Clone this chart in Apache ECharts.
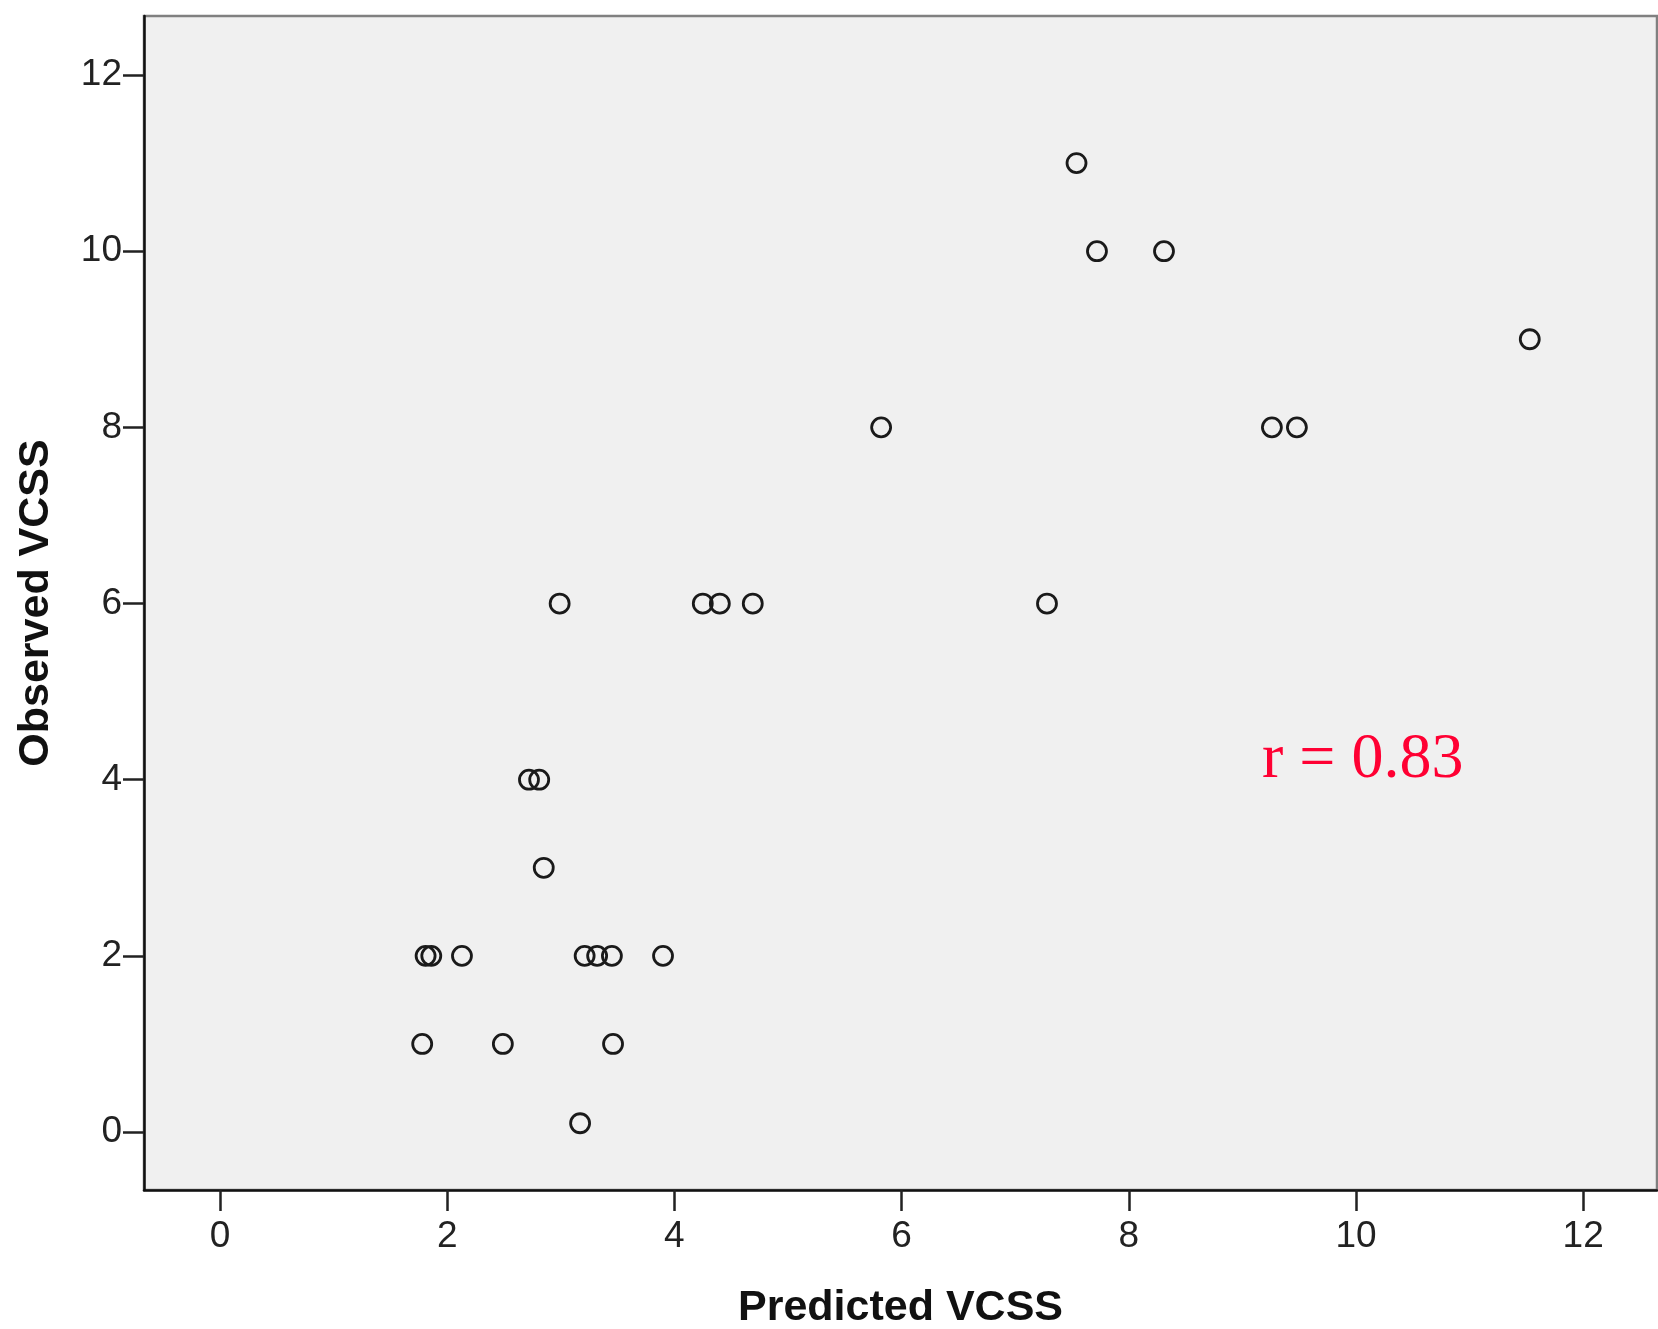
<!DOCTYPE html>
<html>
<head>
<meta charset="utf-8">
<script src="https://cdn.jsdelivr.net/npm/echarts@6/dist/echarts.min.js"></script>
<style>
html,body{margin:0;padding:0;background:#fff;}
#chart{width:1658px;height:1329px;}
</style>
</head>
<body>
<div id="chart"></div>
<script>
// Predicted VCSS (x) and Observed VCSS (y)
var predicted = [7.54, 7.72, 8.31, 11.53, 5.82, 9.26, 9.48, 2.99, 4.25, 4.40, 4.69, 7.28, 2.72, 2.81, 2.85, 1.81, 1.86, 2.13, 3.21, 3.32, 3.45, 3.90, 1.78, 2.49, 3.46, 3.17];
var observed  = [11, 10, 10, 9, 8, 8, 8, 6, 6, 6, 6, 6, 4, 4, 3, 2, 2, 2, 2, 2, 2, 2, 1, 1, 1, 0.1];
var tickValues = [0, 2, 4, 6, 8, 10, 12];
var xTitle = 'Predicted VCSS';
var yTitle = 'Observed VCSS';
var annotation = 'r = 0.83';

var points = predicted.map(function (x, i) { return [x, observed[i]]; });

var chart = echarts.init(document.getElementById('chart'), null, {renderer: 'canvas'});
var labelFont = '"Liberation Sans Narrow", "Liberation Sans", Arial, sans-serif';
function axisCommon(name, gap, labelMargin, min, max) {
  return {
    type: 'value',
    min: min, max: max,
    name: name,
    nameLocation: 'middle',
    nameGap: gap,
    nameTextStyle: {fontFamily: '"Liberation Sans", Arial, sans-serif', fontWeight: 'bold', fontSize: 43, color: '#111'},
    axisLine: {show: true, onZero: false, lineStyle: {color: '#111', width: 2.5}},
    axisTick: {show: true, inside: false, length: 21, customValues: tickValues, lineStyle: {color: '#222', width: 2.5}},
    axisLabel: {show: true, margin: labelMargin, customValues: tickValues, fontFamily: labelFont, fontSize: 37, color: '#222'},
    splitLine: {show: false}
  };
}

chart.setOption({
  animation: false,
  backgroundColor: '#ffffff',
  grid: {
    left: 144, top: 16, right: 1, bottom: 139,
    containLabel: false, outerBoundsMode: 'none',
    show: true, backgroundColor: '#f0f0f0', borderColor: '#808080', borderWidth: 2.5
  },
  xAxis: axisCommon(xTitle, 97, 28, -0.669, 12.65),
  yAxis: axisCommon(yTitle, 86, 22, -0.658, 12.67),
  series: [{
    type: 'scatter',
    data: points,
    symbol: 'circle',
    symbolSize: 19,
    itemStyle: {color: 'rgba(0,0,0,0)', borderColor: '#1a1a1a', borderWidth: 2.8, opacity: 1},
    emphasis: {disabled: true}
  }],
  graphic: [{
    type: 'text',
    x: 1262, y: 760,
    style: {
      text: annotation,
      font: '64px "Liberation Serif", "Times New Roman", serif',
      fill: '#ff0033',
      textAlign: 'left',
      textVerticalAlign: 'middle'
    }
  }]
});
</script>
</body>
</html>
